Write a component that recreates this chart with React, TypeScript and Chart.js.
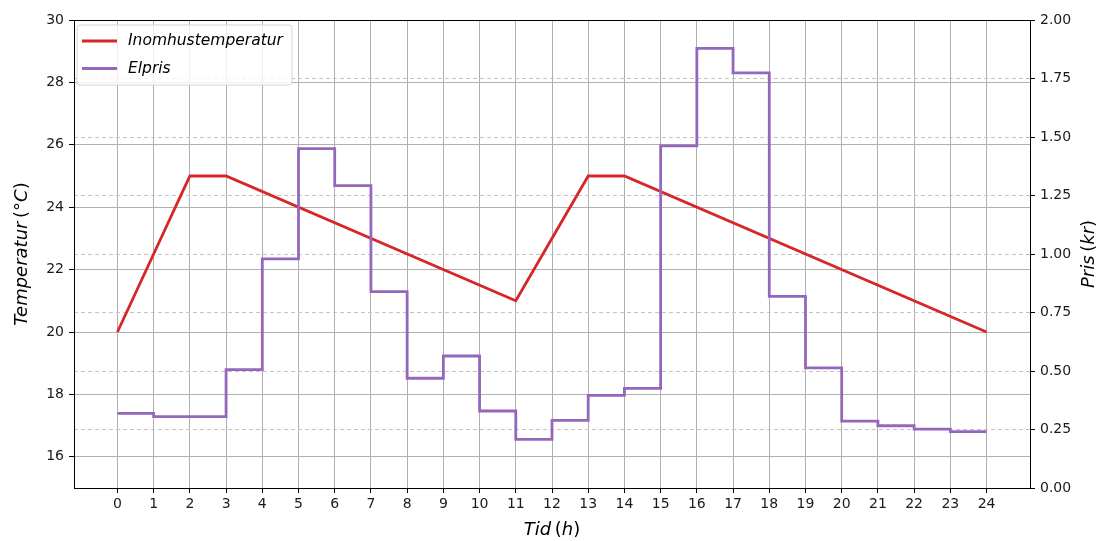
import React, { useEffect, useRef } from "react";
import { Chart, registerables } from "chart.js";

Chart.register(...registerables);

// Hourly axis ticks
const hourTicks = [0, 1, 2, 3, 4, 5, 6, 7, 8, 9, 10, 11, 12, 13, 14, 15, 16, 17, 18, 19, 20, 21, 22, 23, 24];

// Indoor temperature breakpoints (°C)
const tempHours = [0, 2, 3, 11, 13, 14, 24];
const tempValues = [20, 25, 25, 21, 25, 25, 20];

// Electricity price per hour (kr); the last value closes the final step at 24 h
const priceHours = hourTicks;
const priceValues = [
  0.319, 0.305, 0.305, 0.506, 0.979, 1.45, 1.292, 0.839, 0.469, 0.564, 0.329, 0.208,
  0.289, 0.396, 0.426, 1.462, 1.879, 1.774, 0.819, 0.513, 0.286, 0.266, 0.252, 0.241, 0.241,
];

const tempTicks = [16, 18, 20, 22, 24, 26, 28, 30];
const priceTicks = [0, 0.25, 0.5, 0.75, 1.0, 1.25, 1.5, 1.75, 2.0];

const RED = "#d62728";
const PURPLE = "#9467bd";
const FONT = "'DejaVu Sans', sans-serif";
const LINE_W = 2.8;

type Piece = { t: string; italic: boolean };

// Math-style label: italic letters, upright brackets and degree sign
function mathPieces(word: string, unit: string): Piece[] {
  const out: Piece[] = [{ t: word, italic: true }, { t: "\u2009", italic: false }];
  for (const ch of "(" + unit + ")") {
    out.push({ t: ch, italic: /[A-Za-z]/.test(ch) });
  }
  return out;
}

function drawPieces(ctx: CanvasRenderingContext2D, pieces: Piece[], size: number) {
  const fontFor = (p: Piece) => `${p.italic ? "italic " : ""}${size}px ${FONT}`;
  let total = 0;
  for (const p of pieces) {
    ctx.font = fontFor(p);
    total += ctx.measureText(p.t).width;
  }
  let x = -total / 2;
  ctx.textAlign = "left";
  ctx.textBaseline = "middle";
  for (const p of pieces) {
    ctx.font = fontFor(p);
    ctx.fillText(p.t, x, 0);
    x += ctx.measureText(p.t).width;
  }
}

const overlayPlugin = {
  id: "overlay",
  afterDatasetsDraw(chart: any) {
    const { ctx, chartArea } = chart;
    const { left, right, top, bottom } = chartArea;
    ctx.save();
    // frame
    ctx.strokeStyle = "#000";
    ctx.lineWidth = 1;
    ctx.strokeRect(Math.round(left) + 0.5, Math.round(top) + 0.5, Math.round(right - left), Math.round(bottom - top));

    // legend
    const lx = 77, ly = 25, lw = 215, lh = 60, r = 3;
    ctx.beginPath();
    ctx.moveTo(lx + r, ly);
    ctx.arcTo(lx + lw, ly, lx + lw, ly + lh, r);
    ctx.arcTo(lx + lw, ly + lh, lx, ly + lh, r);
    ctx.arcTo(lx, ly + lh, lx, ly, r);
    ctx.arcTo(lx, ly, lx + lw, ly, r);
    ctx.closePath();
    ctx.fillStyle = "rgba(255,255,255,0.8)";
    ctx.fill();
    ctx.strokeStyle = "#d6d6d6";
    ctx.stroke();

    const entries = [
      { label: "Inomhustemperatur", color: RED, y: 41 },
      { label: "Elpris", color: PURPLE, y: 68.5 },
    ];
    ctx.font = `italic 15.5px ${FONT}`;
    ctx.textBaseline = "middle";
    ctx.textAlign = "left";
    for (const e of entries) {
      ctx.strokeStyle = e.color;
      ctx.lineWidth = LINE_W;
      ctx.beginPath();
      ctx.moveTo(82, e.y);
      ctx.lineTo(117, e.y);
      ctx.stroke();
      ctx.fillStyle = "#000";
      ctx.fillText(e.label, 128, e.y);
    }

    // axis titles
    ctx.fillStyle = "#000";
    ctx.save();
    ctx.translate((left + right) / 2, 530);
    drawPieces(ctx, mathPieces("Tid", "h"), 18);
    ctx.restore();

    ctx.save();
    ctx.translate(22.5, (top + bottom) / 2);
    ctx.rotate(-Math.PI / 2);
    drawPieces(ctx, mathPieces("Temperatur", "°C"), 18);
    ctx.restore();

    ctx.save();
    ctx.translate(1089, (top + bottom) / 2);
    ctx.rotate(-Math.PI / 2);
    drawPieces(ctx, mathPieces("Pris", "kr"), 18);
    ctx.restore();

    ctx.restore();
  },
};

export default function App() {
  const canvasRef = useRef<HTMLCanvasElement | null>(null);

  useEffect(() => {
    if (!canvasRef.current) return;
    Chart.defaults.font.family = FONT;

    const chart = new Chart(canvasRef.current, {
      type: "line",
      data: {
        datasets: [
          {
            label: "Inomhustemperatur",
            data: tempHours.map((h, i) => ({ x: h, y: tempValues[i] })),
            borderColor: RED,
            borderWidth: LINE_W,
            pointRadius: 0,
            yAxisID: "yT",
            order: 2,
          },
          {
            label: "Elpris",
            data: priceHours.map((h, i) => ({ x: h, y: priceValues[i] })),
            borderColor: PURPLE,
            borderWidth: LINE_W,
            pointRadius: 0,
            stepped: "before",
            yAxisID: "yP",
            order: 1,
          },
        ],
      },
      options: {
        responsive: false,
        animation: false,
        layout: { padding: { top: 20, left: 0, right: 0, bottom: 0 } },
        plugins: { legend: { display: false }, tooltip: { enabled: false } },
        scales: {
          x: {
            type: "linear",
            min: -1.2,
            max: 25.2,
            afterBuildTicks: (axis: any) => {
              axis.ticks = hourTicks.map((v) => ({ value: v }));
            },
            afterFit: (axis: any) => {
              axis.height = 53;
            },
            ticks: {
              color: "#1a1a1a",
              font: { size: 14 },
              padding: 3,
              maxRotation: 0,
              autoSkip: false,
              callback: (v: any) => String(v),
            },
            grid: { color: "#b0b0b0", lineWidth: 1, tickColor: "#000", tickLength: 5 },
            border: { display: false },
          },
          yT: {
            type: "linear",
            position: "left",
            min: 15,
            max: 30,
            afterBuildTicks: (axis: any) => {
              axis.ticks = tempTicks.map((v) => ({ value: v }));
            },
            afterFit: (axis: any) => {
              axis.width = 74;
            },
            ticks: { color: "#1a1a1a", font: { size: 14 }, padding: 5 },
            grid: { color: "#b0b0b0", lineWidth: 1, tickColor: "#000", tickLength: 5 },
            border: { display: false },
          },
          yP: {
            type: "linear",
            position: "right",
            min: 0,
            max: 2,
            afterBuildTicks: (axis: any) => {
              axis.ticks = priceTicks.map((v) => ({ value: v }));
            },
            afterFit: (axis: any) => {
              axis.width = 70;
            },
            ticks: {
              color: "#1a1a1a",
              font: { size: 14 },
              padding: 5,
              callback: (v: any) => Number(v).toFixed(2),
            },
            grid: {
              color: "#c4c4c4",
              lineWidth: 1,
              tickColor: "#000",
              tickLength: 5,
              tickBorderDash: [1, 0],
            },
            border: { display: false, dash: [4, 3] },
          },
        },
      },
      plugins: [overlayPlugin],
    } as any);

    return () => chart.destroy();
  }, []);

  return (
    <div style={{ position: "absolute", left: 0, top: 0, width: 1100, height: 541, background: "#fff" }}>
      <canvas ref={canvasRef} width={1100} height={541} />
    </div>
  );
}
